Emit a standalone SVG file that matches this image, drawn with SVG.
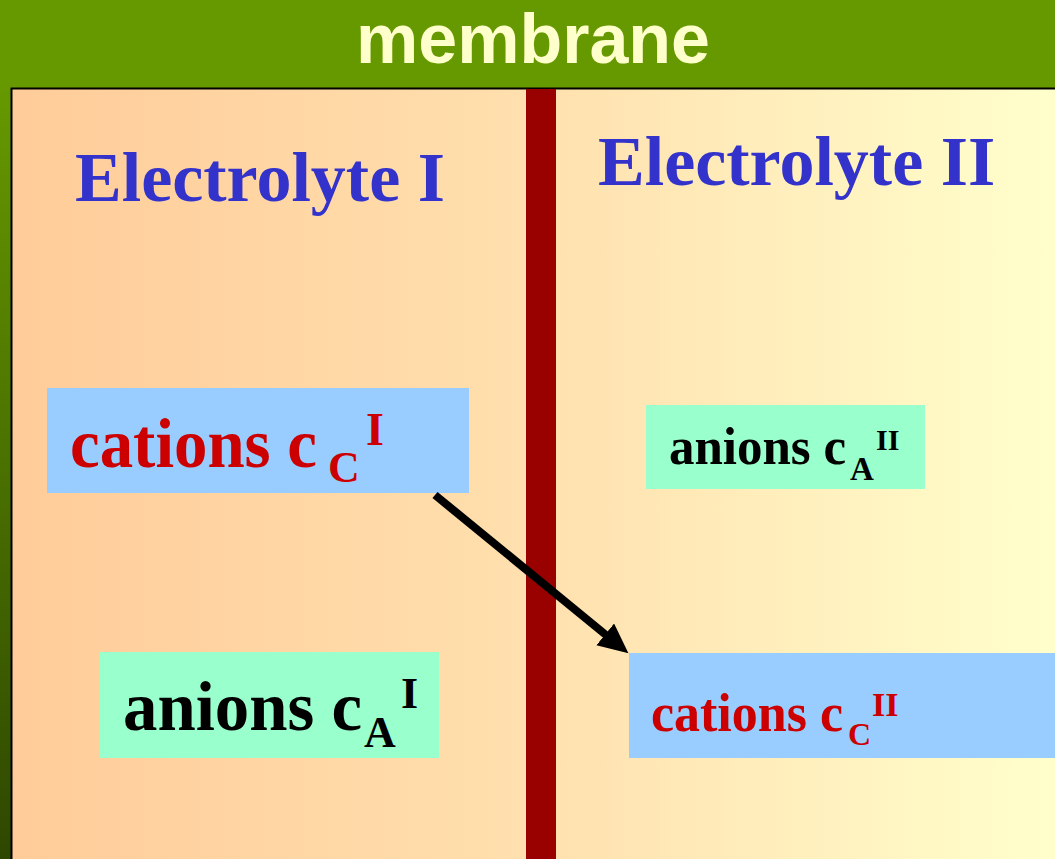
<svg xmlns="http://www.w3.org/2000/svg" width="1055" height="859" viewBox="0 0 1055 859">
  <defs>
    <linearGradient id="panelGrad" x1="12" y1="0" x2="1055" y2="0" gradientUnits="userSpaceOnUse">
      <stop offset="0" stop-color="#FFCC99"/>
      <stop offset="0.5" stop-color="#FFE0AE"/>
      <stop offset="1" stop-color="#FFFFCC"/>
    </linearGradient>
    <linearGradient id="sideGrad" x1="0" y1="86" x2="0" y2="859" gradientUnits="userSpaceOnUse">
      <stop offset="0" stop-color="#669900"/>
      <stop offset="1" stop-color="#2E4700"/>
    </linearGradient>
    <marker id="arrowHead" markerUnits="userSpaceOnUse" markerWidth="32" markerHeight="30" refX="1" refY="14" orient="auto" viewBox="0 0 32 30">
      <path d="M0,0 L30,14 L0,28 Z" fill="#000"/>
    </marker>
    <style>
      .serif { font-family: "Liberation Serif", "Times New Roman", serif; font-weight: bold; }
      .sans { font-family: "Liberation Sans", Arial, sans-serif; font-weight: bold; }
      .title { fill: #3333CC; font-size: 70px; }
      .cation { fill: #CC0000; }
      .anion { fill: #000000; }
      .cbox { fill: #99CCFF; }
      .abox { fill: #99FFCC; }
    </style>
  </defs>

  <!-- background -->
  <rect x="0" y="0" width="1055" height="859" fill="#669900"/>
  <rect x="0" y="86" width="12" height="773" fill="url(#sideGrad)"/>
  <text class="sans" x="533" y="63" font-size="70" fill="#FFFFCC" text-anchor="middle">membrane</text>

  <!-- panel -->
  <rect x="11.5" y="88.5" width="1050" height="780" fill="url(#panelGrad)" stroke="#000" stroke-width="2"/>
  <rect id="membrane-wall" x="526" y="89" width="30" height="770" fill="#990000"/>

  <g id="electrolyte-1-label">
    <text class="serif title" x="75" y="201">Electrolyte I</text>
  </g>
  <g id="electrolyte-2-label">
    <text class="serif title" x="598" y="185">Electrolyte II</text>
  </g>

  <g id="cations-1">
    <rect class="cbox" x="47" y="388" width="422" height="105"/>
    <text class="serif cation"><tspan x="70" y="467" font-size="70" textLength="247" lengthAdjust="spacingAndGlyphs">cations c</tspan><tspan x="328" y="482" font-size="44">C</tspan><tspan x="366" y="445" font-size="46">I</tspan></text>
  </g>

  <g id="anions-2">
    <rect class="abox" x="646" y="405" width="279" height="84"/>
    <text class="serif anion"><tspan x="669" y="464" font-size="52" textLength="177" lengthAdjust="spacingAndGlyphs">anions c</tspan><tspan x="850" y="480" font-size="33">A</tspan><tspan x="876" y="450" font-size="30">II</tspan></text>
  </g>

  <g id="anions-1">
    <rect class="abox" x="100" y="652" width="339" height="106"/>
    <text class="serif anion"><tspan x="123" y="730" font-size="70" textLength="239" lengthAdjust="spacingAndGlyphs">anions c</tspan><tspan x="364" y="747" font-size="44">A</tspan><tspan x="401" y="708" font-size="44">I</tspan></text>
  </g>

  <g id="cations-2">
    <rect class="cbox" x="629" y="653" width="426" height="105"/>
    <text class="serif cation"><tspan x="651" y="731" font-size="54" textLength="192" lengthAdjust="spacingAndGlyphs">cations c</tspan><tspan x="848" y="745" font-size="32">C</tspan><tspan x="872" y="716" font-size="34">II</tspan></text>
  </g>

  <g id="connectors">
    <line x1="435" y1="495" x2="606" y2="635" stroke="#000" stroke-width="8" marker-end="url(#arrowHead)"/>
  </g>
</svg>
